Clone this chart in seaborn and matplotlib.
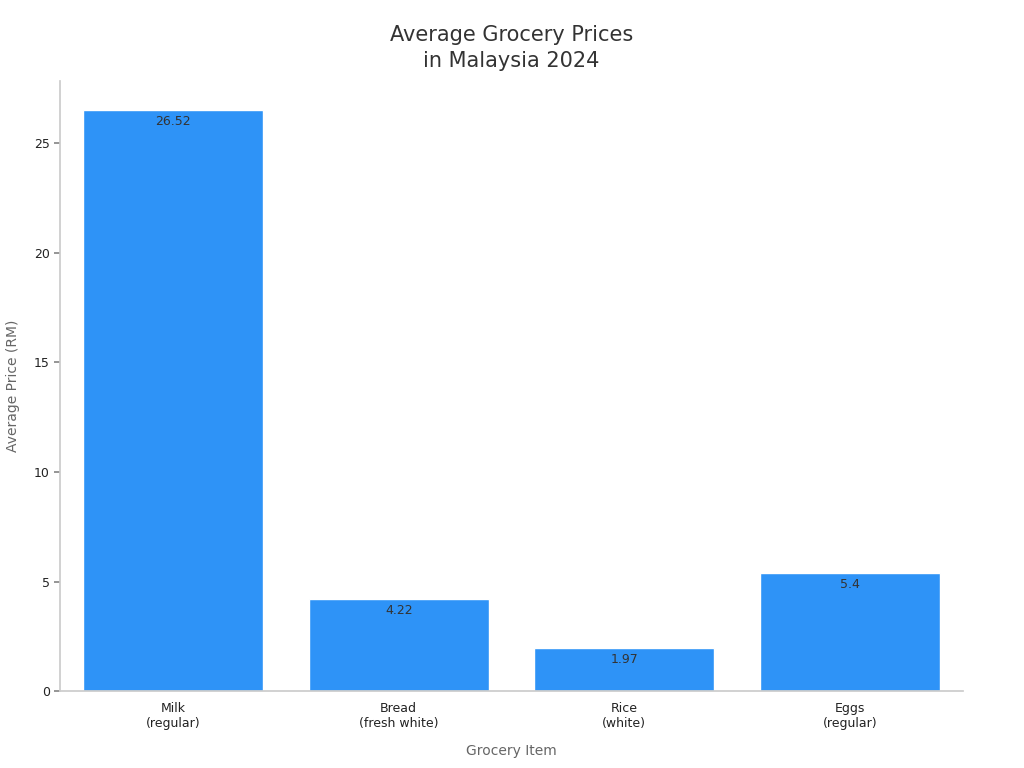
import matplotlib
matplotlib.use("Agg")
import matplotlib.pyplot as plt
import seaborn as sns
import pandas as pd

items = ["Milk\n(regular)", "Bread\n(fresh white)", "Rice\n(white)", "Eggs\n(regular)"]
prices = [26.52, 4.22, 1.97, 5.4]
price_labels = ["26.52", "4.22", "1.97", "5.4"]

sns.set_theme(style="white")
plt.rcParams['font.family'] = ['DejaVu Sans']

df = pd.DataFrame({"item": items, "price": prices})

fig, ax = plt.subplots(figsize=(10.24, 7.68), dpi=100)
fig.subplots_adjust(left=0.059, right=0.94, top=0.895, bottom=0.1)

sns.barplot(data=df, x="item", y="price", color="#2E93F7", saturation=1,
            width=0.8, edgecolor="white", linewidth=1, ax=ax)

for bar, lab in zip(ax.patches, price_labels):
    ax.text(bar.get_x() + bar.get_width() / 2, bar.get_height() - 0.25, lab,
            ha="center", va="top", fontsize=9, color="#333333")

ax.set_ylim(0, 27.85)
ax.set_xlim(-0.5, 3.5)
ax.set_yticks([0, 5, 10, 15, 20, 25])
ax.tick_params(axis="both", labelsize=9, colors="#222222", length=4)
ax.tick_params(axis="y", left=True, color="#888888")
ax.tick_params(axis="x", bottom=False)
for s in ["top", "right"]:
    ax.spines[s].set_visible(False)
for s in ["left", "bottom"]:
    ax.spines[s].set_color("#cccccc")

ax.set_xlabel("Grocery Item", fontsize=10, color="#666666", labelpad=10)
ax.set_ylabel("Average Price (RM)", fontsize=10, color="#666666", labelpad=10)
ax.set_title("Average Grocery Prices\nin Malaysia 2024", fontsize=15, color="#333333",
             pad=10, linespacing=1.35)

fig.savefig("out.png", dpi=100)
